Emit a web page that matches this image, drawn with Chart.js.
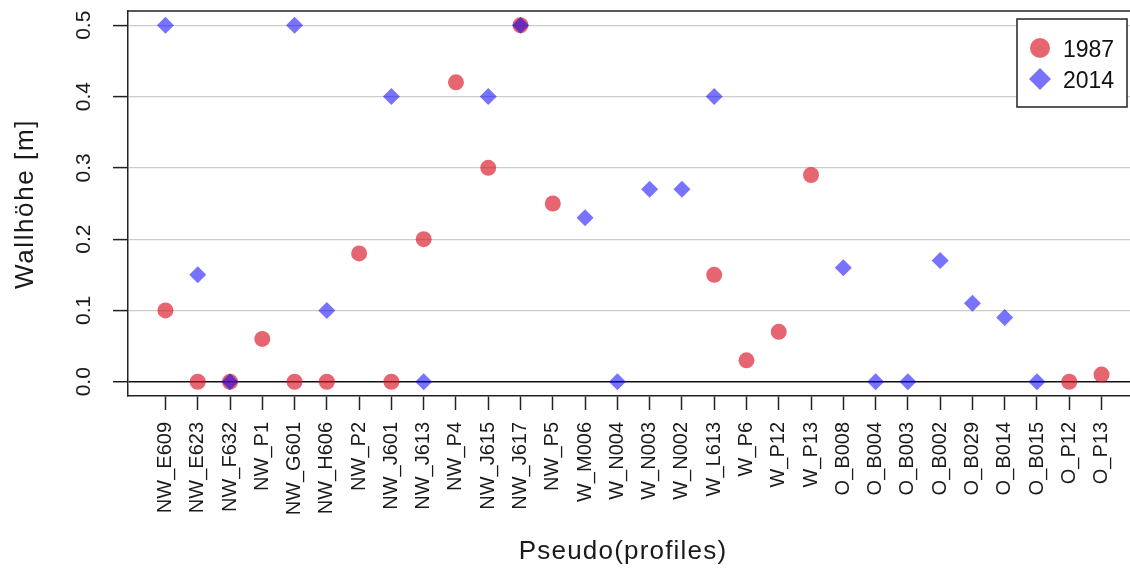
<!DOCTYPE html>
<html>
<head>
<meta charset="utf-8">
<script src="https://cdn.jsdelivr.net/npm/chart.js@4.4.1/dist/chart.umd.min.js"></script>
<style>
  body { margin: 0; background: #fff; }
  #wrap { width: 1130px; height: 570px; overflow: hidden; }
</style>
</head>
<body>
<div id="wrap"><canvas id="wallChart" width="1150" height="570"></canvas></div>
<script>
// Profile names along the x axis
const profiles = [
  'NW_E609', 'NW_E623', 'NW_F632', 'NW_P1', 'NW_G601', 'NW_H606', 'NW_P2',
  'NW_J601', 'NW_J613', 'NW_P4', 'NW_J615', 'NW_J617', 'NW_P5', 'W_M006',
  'W_N004', 'W_N003', 'W_N002', 'W_L613', 'W_P6', 'W_P12', 'W_P13',
  'O_B008', 'O_B004', 'O_B003', 'O_B002', 'O_B029', 'O_B014', 'O_B015',
  'O_P12', 'O_P13'
];

// Wall height [m], null = no measurement
const wall1987 = [
  0.10, 0.00, 0.00, 0.06, 0.00, 0.00, 0.18,
  0.00, 0.20, 0.42, 0.30, 0.50, 0.25, null,
  null, null, null, 0.15, 0.03, 0.07, 0.29,
  null, null, null, null, null, null, null,
  0.00, 0.01
];
const wall2014 = [
  0.50, 0.15, 0.00, null, 0.50, 0.10, null,
  0.40, 0.00, null, 0.40, 0.50, null, 0.23,
  0.00, 0.27, 0.27, 0.40, null, null, null,
  0.16, 0.00, 0.00, 0.17, 0.11, 0.09, 0.00,
  null, null
];

const yTicks = [0, 0.1, 0.2, 0.3, 0.4, 0.5];
const yTickLabels = ['0.0', '0.1', '0.2', '0.3', '0.4', '0.5'];

const RED = 'rgba(215, 20, 35, 0.65)';
const BLUE = 'rgba(10, 0, 250, 0.55)';
const FONT = '"Liberation Sans", Arial, sans-serif';

function toPoints(values) {
  const pts = [];
  values.forEach((v, i) => {
    if (v !== null) pts.push({ x: i, y: v });
  });
  return pts;
}

// Box top, rotated y tick labels, axis titles and the legend
const overlayPlugin = {
  id: 'overlay',
  afterDraw(chart) {
    const ctx = chart.ctx;
    const area = chart.chartArea;
    const yScale = chart.scales.y;

    ctx.save();
    ctx.strokeStyle = '#222';
    ctx.lineWidth = 1.5;
    ctx.beginPath();
    ctx.moveTo(area.left, area.top);
    ctx.lineTo(area.right, area.top);
    ctx.lineTo(area.right, area.bottom);
    ctx.stroke();

    // y tick labels, vertical like R
    ctx.fillStyle = '#1a1a1a';
    ctx.font = '21px ' + FONT;
    ctx.textAlign = 'center';
    ctx.textBaseline = 'alphabetic';
    yTicks.forEach((v, i) => {
      const py = yScale.getPixelForValue(v);
      ctx.save();
      ctx.translate(90, py);
      ctx.rotate(-Math.PI / 2);
      ctx.fillText(yTickLabels[i], 0, 0);
      ctx.restore();
    });

    // axis titles
    ctx.font = '26px ' + FONT;
    ctx.save();
    ctx.letterSpacing = '1.6px';
    ctx.translate(33, 204);
    ctx.rotate(-Math.PI / 2);
    ctx.fillText('Wallhöhe [m]', 0, 0);
    ctx.restore();
    ctx.save();
    ctx.letterSpacing = '1.2px';
    ctx.fillText('Pseudo(profiles)', 623, 559);
    ctx.restore();

    // legend
    ctx.lineWidth = 1.5;
    ctx.strokeStyle = '#222';
    ctx.fillStyle = '#fff';
    ctx.fillRect(1017, 19, 110, 88);
    ctx.strokeRect(1017, 19, 110, 88);
    chart.data.datasets.forEach((ds, i) => {
      const cy = i === 0 ? 48 : 79;
      ctx.fillStyle = ds.backgroundColor;
      ctx.beginPath();
      if (ds.pointStyle === 'circle') {
        ctx.arc(1040, cy, 10, 0, Math.PI * 2);
      } else {
        ctx.moveTo(1040, cy - 11);
        ctx.lineTo(1051, cy);
        ctx.lineTo(1040, cy + 11);
        ctx.lineTo(1029, cy);
        ctx.closePath();
      }
      ctx.fill();
      ctx.fillStyle = '#111';
      ctx.font = '23px ' + FONT;
      ctx.textAlign = 'left';
      ctx.fillText(ds.label, 1063, i === 0 ? 57 : 88);
    });
    ctx.restore();
  }
};

new Chart(document.getElementById('wallChart'), {
  type: 'scatter',
  data: {
    datasets: [
      {
        label: '1987',
        data: toPoints(wall1987),
        pointStyle: 'circle',
        backgroundColor: RED,
        borderWidth: 0,
        pointRadius: 8,
        order: 2
      },
      {
        label: '2014',
        data: toPoints(wall2014),
        pointStyle: 'rectRot',
        backgroundColor: BLUE,
        borderWidth: 0,
        pointRadius: 8.5,
        order: 1
      }
    ]
  },
  options: {
    responsive: false,
    animation: false,
    devicePixelRatio: 1,
    layout: {
      padding: { top: 11, right: 11, left: 0, bottom: 0 }
    },
    plugins: {
      legend: { display: false },
      tooltip: { enabled: false }
    },
    scales: {
      x: {
        type: 'linear',
        min: -1.16,
        max: profiles.length - 1 + 1.16,
        afterBuildTicks: (scale) => {
          scale.ticks = profiles.map((_, i) => ({ value: i }));
        },
        afterFit: (scale) => { scale.height = 174; },
        ticks: {
          autoSkip: false,
          minRotation: 90,
          maxRotation: 90,
          padding: 12,
          color: '#1a1a1a',
          font: { size: 20, family: FONT },
          callback: (v) => profiles[v]
        },
        grid: {
          drawOnChartArea: false,
          tickLength: 14,
          tickColor: '#222',
          tickWidth: 1.5
        },
        border: { display: true, color: '#222', width: 1.5 }
      },
      y: {
        min: -0.02,
        max: 0.52,
        afterBuildTicks: (scale) => {
          scale.ticks = yTicks.map((v) => ({ value: v }));
        },
        afterFit: (scale) => { scale.width = 128; },
        ticks: { display: false },
        grid: {
          color: (c) => (c.tick && c.tick.value === 0 ? '#111' : '#cccccc'),
          lineWidth: (c) => (c.tick && c.tick.value === 0 ? 1.5 : 1.2),
          tickLength: 15,
          tickColor: '#222',
          tickWidth: 1.5
        },
        border: { display: true, color: '#222', width: 1.5 }
      }
    }
  },
  plugins: [overlayPlugin]
});
</script>
</body>
</html>
